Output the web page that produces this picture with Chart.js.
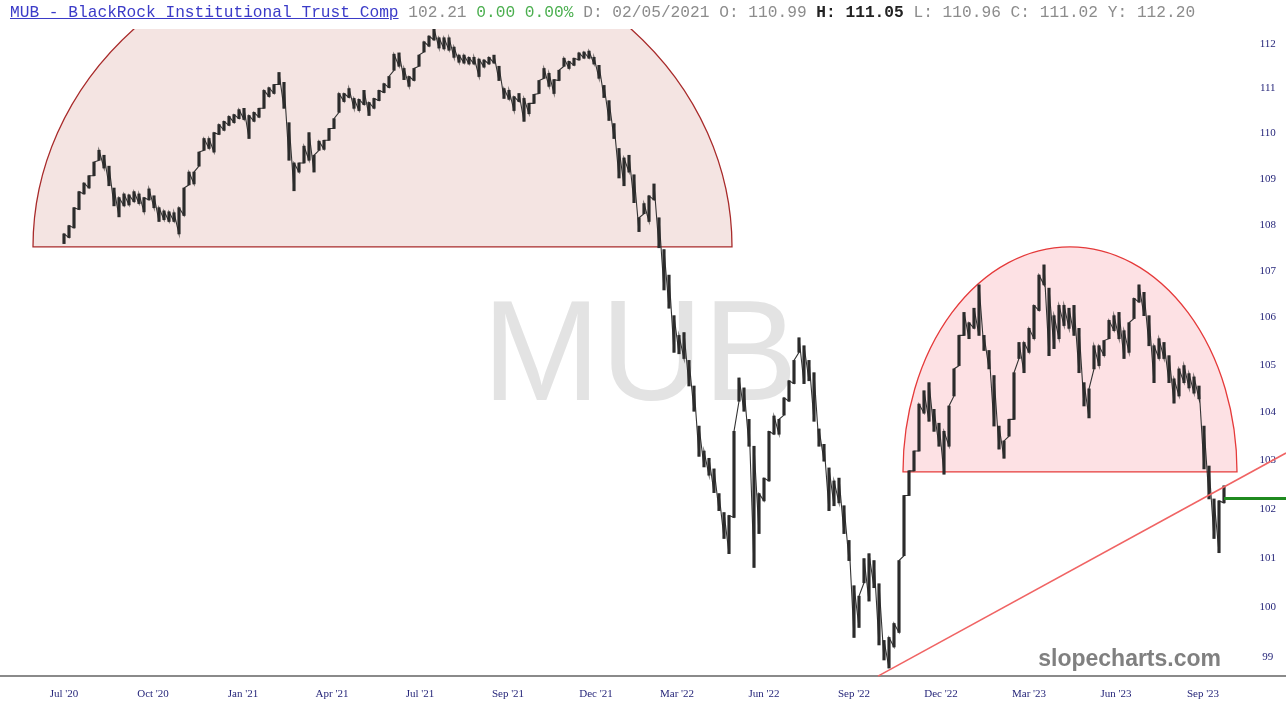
<!DOCTYPE html>
<html>
<head>
<meta charset="utf-8">
<script src="https://cdn.jsdelivr.net/npm/chart.js@4.4.0/dist/chart.umd.min.js"></script>
<style>
html,body{margin:0;padding:0;background:#fff;overflow:hidden;}
#wrap{position:relative;width:1286px;height:716px;}
#c{position:absolute;left:0;top:0;}
#hdr{position:absolute;left:10px;top:4px;font-family:"Liberation Mono","DejaVu Sans Mono",monospace;font-size:16.2px;line-height:18px;white-space:pre;color:#8c8c8c;}
#hdr .t{color:#3b3bc8;text-decoration:underline;}
#hdr .g{color:#4caf50;}
#hdr .b{color:#222;font-weight:bold;}
</style>
</head>
<body>
<div id="wrap">
<canvas id="c" width="1286" height="716"></canvas>
<div id="hdr"><span class="t">MUB - BlackRock Institutional Trust Comp</span> 102.21 <span class="g">0.00 0.00%</span> D: 02/05/2021 O: 110.99 <span class="b">H: 111.05</span> L: 110.96 C: 111.02 Y: 112.20</div>
</div>
<script>
// ---- data ----
const tickIdx = [0, 17.8, 35.8, 53.6, 71.2, 88.8, 106.4, 122.6, 140, 158, 175.4, 193, 210.4, 227.8];
const tickLabels = ["Jul '20","Oct '20","Jan '21","Apr '21","Jul '21","Sep '21","Dec '21","Mar '22","Jun '22","Sep '22","Dec '22","Mar '23","Jun '23","Sep '23"];
const yTicks = [99,100,101,102,103,104,105,106,107,108,109,110,111,112];

const highs = [
107.80,107.98,108.37,108.72,108.91,109.07,109.37,109.63,109.52,109.28,
108.80,108.59,108.67,108.65,108.72,108.67,108.59,108.78,108.63,108.37,
108.30,108.28,108.26,108.37,108.80,109.15,109.15,109.59,109.89,109.89,
110.02,110.20,110.27,110.38,110.42,110.53,110.56,110.40,110.47,110.56,
110.96,111.02,111.09,111.36,111.14,110.24,109.35,109.35,109.72,110.02,
109.52,109.83,109.85,110.11,110.33,110.89,110.89,111.00,110.78,110.76,
110.96,110.69,110.78,110.96,111.11,111.27,111.77,111.80,111.45,111.27,
111.45,111.75,112.05,112.18,112.34,112.14,112.14,112.14,111.93,111.75,
111.75,111.70,111.70,111.66,111.64,111.70,111.75,111.50,111.00,110.96,
110.82,110.89,110.78,110.67,110.87,111.18,111.45,111.34,111.20,111.41,
111.68,111.61,111.68,111.80,111.82,111.84,111.70,111.52,111.07,110.73,
110.22,109.67,109.46,109.52,109.09,108.15,108.46,108.63,108.89,108.15,
107.46,106.91,106.04,105.62,105.68,105.09,104.55,103.71,103.19,103.04,
102.82,102.31,101.92,101.86,103.60,104.72,104.51,103.85,103.29,102.31,
102.63,103.60,103.92,103.85,104.30,104.66,105.09,105.57,105.40,105.09,
104.83,103.65,103.33,102.84,102.57,102.63,102.06,101.35,100.43,100.22,
100.98,101.08,100.94,100.47,99.33,99.39,99.67,100.94,102.27,102.78,
103.19,104.17,104.45,104.62,104.06,103.77,103.60,104.13,104.91,105.62,
106.11,105.89,106.20,106.70,105.62,105.30,104.77,103.71,103.40,103.85,
104.83,105.47,105.47,105.77,106.26,106.91,107.13,106.63,106.04,106.26,
106.26,106.20,106.26,105.77,104.62,104.49,105.40,105.40,105.51,105.94,
106.04,106.11,105.72,105.89,106.41,106.70,106.54,106.04,105.40,105.55,
105.47,105.19,104.70,104.91,104.98,104.81,104.74,104.55,103.71,102.88,
102.20,102.16,102.47
];
const lows = [
107.59,107.72,107.93,108.33,108.67,108.80,109.07,109.41,109.24,108.85,
108.41,108.17,108.41,108.43,108.50,108.46,108.28,108.54,108.37,108.07,
108.11,108.07,108.07,107.80,108.20,108.87,108.89,109.28,109.63,109.67,
109.59,109.98,110.07,110.18,110.24,110.33,110.31,109.89,110.27,110.36,
110.56,110.82,110.89,111.09,110.56,109.41,108.74,109.15,109.35,109.41,
109.15,109.63,109.65,109.85,110.11,110.47,110.71,110.80,110.56,110.51,
110.64,110.40,110.56,110.73,110.91,111.02,111.41,111.50,111.20,111.05,
111.18,111.50,111.82,111.95,112.09,111.91,111.89,111.86,111.70,111.59,
111.57,111.55,111.55,111.27,111.48,111.55,111.57,111.18,110.78,110.76,
110.51,110.71,110.27,110.44,110.67,110.89,111.23,111.05,110.89,111.18,
111.50,111.45,111.52,111.64,111.68,111.68,111.55,111.23,110.80,110.29,
109.89,109.02,108.85,109.15,108.48,107.85,108.24,108.07,108.54,107.50,
106.59,106.20,105.26,105.23,105.13,104.55,104.02,103.08,102.86,102.69,
102.33,101.96,101.39,101.08,101.82,104.23,104.02,103.29,100.80,101.49,
102.16,102.57,103.54,103.54,103.94,104.23,104.60,105.26,104.60,104.66,
103.81,103.29,102.98,101.96,102.06,102.12,101.49,100.94,99.39,99.59,
100.49,100.12,100.39,99.24,98.94,98.78,99.20,99.49,101.04,102.27,
102.78,103.19,103.98,103.81,103.60,103.29,102.71,103.29,104.34,104.98,
105.62,105.55,105.77,105.62,105.30,104.91,103.71,103.23,103.04,103.50,
103.85,105.13,104.83,105.26,105.55,106.15,106.70,105.19,105.34,105.55,
105.83,105.77,105.62,104.83,104.13,103.88,104.91,104.98,105.19,105.55,
105.72,105.55,105.13,105.26,105.98,106.33,106.04,105.40,104.62,105.13,
105.13,104.62,104.19,104.34,104.62,104.51,104.40,104.28,102.82,102.20,
101.39,101.10,102.12
];
const lastClose = 102.21;
const trendLine = [{x:162.8, y:98.62}, {x:244.4, y:103.15}];
const domes = [
  {x0:-6.2, x1:133.6, base:107.52, top:114.44},
  {x0:167.8, x1:234.6, base:102.76, top:107.52}
];
// ---- styles ----
const domeStyles = [
  {fill:'#f4e4e2', stroke:'#a82a2a'},
  {fill:'#fde1e4', stroke:'#e53a3a'}
];
const X_MIN = -12.8, X_MAX = 244.4, Y_MIN = 98.622, Y_MAX = 112.339;

const barData = highs.map((h, i) => ({x: i, y: [lows[i], h]}));
// trace that runs through each bar's own low and high, joining the bars
const pathData = [];
highs.forEach((h, i) => { pathData.push({x: i, y: lows[i]}); pathData.push({x: i, y: h}); });
const lastIdx = highs.length - 1;
const closeLine = [{x: lastIdx, y: lastClose}, {x: X_MAX, y: lastClose}];

const decor = {
  id: 'decor',
  beforeDatasetsDraw(chart) {
    const {ctx, chartArea: a, scales: {x, y}} = chart;
    ctx.save();
    ctx.font = '142px "Liberation Sans", Arial, sans-serif';
    ctx.fillStyle = '#e3e3e3';
    ctx.textAlign = 'center';
    ctx.textBaseline = 'alphabetic';
    ctx.fillText('MUB', 640, 400);
    ctx.beginPath();
    ctx.rect(a.left, a.top, a.right - a.left, a.bottom - a.top);
    ctx.clip();
    domes.forEach((d, k) => {
      const xl = x.getPixelForValue(d.x0), xr = x.getPixelForValue(d.x1);
      const yb = y.getPixelForValue(d.base), yt = y.getPixelForValue(d.top);
      ctx.beginPath();
      ctx.ellipse((xl + xr) / 2, yb, (xr - xl) / 2, yb - yt, 0, Math.PI, 2 * Math.PI);
      ctx.closePath();
      ctx.fillStyle = domeStyles[k].fill;
      ctx.fill();
      ctx.lineWidth = 1.3;
      ctx.strokeStyle = domeStyles[k].stroke;
      ctx.stroke();
    });
    ctx.restore();
  },
  afterDatasetsDraw(chart) {
    const {ctx} = chart;
    ctx.save();
    ctx.font = 'bold 23px "Liberation Sans", Arial, sans-serif';
    ctx.fillStyle = '#808080';
    ctx.textAlign = 'right';
    ctx.textBaseline = 'alphabetic';
    ctx.fillText('slopecharts.com', 1221, 666);
    ctx.restore();
  }
};

new Chart(document.getElementById('c'), {
  type: 'bar',
  data: {
    datasets: [
      {type: 'line', data: trendLine, borderColor: '#f06464', borderWidth: 1.6, pointRadius: 0, order: 0, clip: false},
      {type: 'line', data: closeLine, borderColor: '#1f8a1f', borderWidth: 3, pointRadius: 0, order: 0},
      {type: 'line', data: pathData, borderColor: '#333333', borderWidth: 1.1, pointRadius: 0, tension: 0, order: 2},
      {type: 'bar', data: barData, backgroundColor: '#2b2b2b', borderWidth: 0, barThickness: 2.5, grouped: false, order: 1}
    ]
  },
  options: {
    responsive: false,
    animation: false,
    devicePixelRatio: 1,
    layout: {padding: {top: 29, left: 0, right: 0, bottom: 0}},
    plugins: {legend: {display: false}, tooltip: {enabled: false}},
    scales: {
      x: {
        type: 'linear', min: X_MIN, max: X_MAX, offset: false,
        grid: {display: false, drawTicks: false},
        border: {display: true, color: '#8a8a8a', width: 2},
        afterBuildTicks: s => { s.ticks = tickIdx.map(v => ({value: v})); },
        afterFit: s => { s.height = 40; },
        ticks: {
          autoSkip: false, maxRotation: 0, padding: 12,
          color: '#26267a',
          font: {family: '"Liberation Serif", "Times New Roman", serif', size: 11},
          callback: v => { const k = tickIdx.indexOf(v); return k >= 0 ? tickLabels[k] : ''; }
        }
      },
      y: {
        type: 'logarithmic', position: 'right', min: Y_MIN, max: Y_MAX,
        grid: {display: false, drawTicks: false},
        border: {display: false},
        afterBuildTicks: s => { s.ticks = yTicks.map(v => ({value: v})); },
        afterFit: s => { s.width = 0; },
        ticks: {
          mirror: true, crossAlign: 'center', padding: -10,
          color: '#26267a',
          font: {family: '"Liberation Serif", "Times New Roman", serif', size: 11},
          callback: v => String(v)
        }
      }
    }
  },
  plugins: [decor]
});
</script>
</body>
</html>
